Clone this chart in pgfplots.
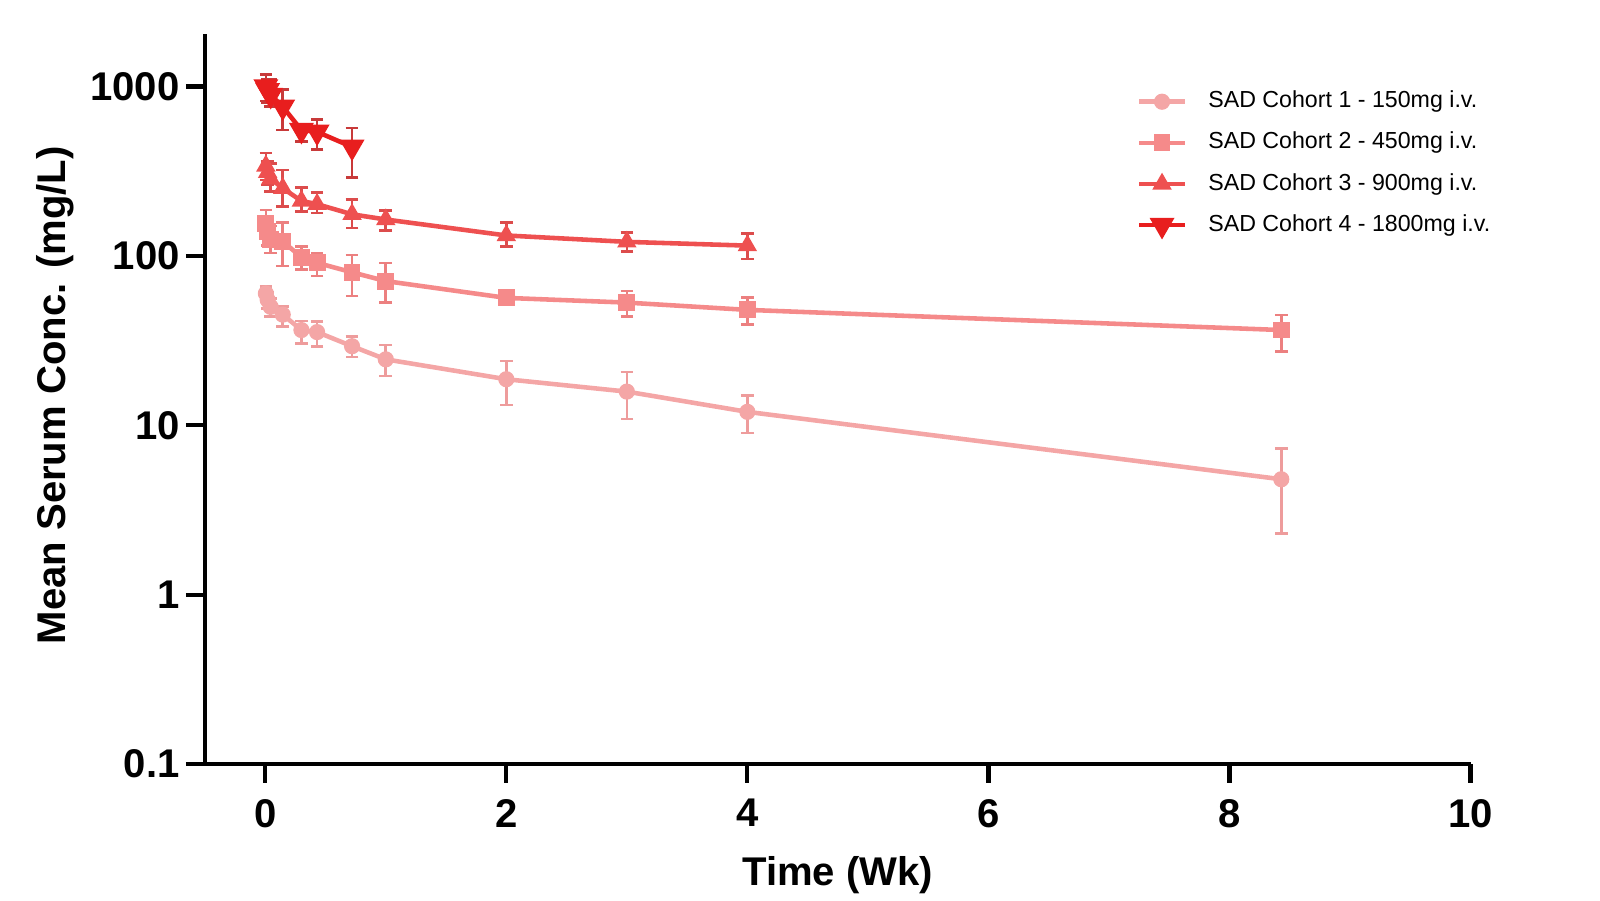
\documentclass[border=0pt]{standalone}
\usepackage{pgfplots}
\pgfplotsset{compat=1.18}
\usepackage{pgfplotstable}
\usepackage{fontspec}
\setmainfont{Liberation Sans}

\definecolor{cA}{HTML}{F4A6A6}
\definecolor{cB}{HTML}{F58A8A}
\definecolor{cC}{HTML}{EE5050}
\definecolor{cD}{HTML}{E81E1E}
\definecolor{eA}{HTML}{EE9C9C}
\definecolor{eB}{HTML}{EC8080}
\definecolor{eC}{HTML}{DC4C4C}
\definecolor{eD}{HTML}{C83A3A}

% time (wk), mean, error above, error below (mg/L)
\pgfplotstableread{
t     y     ep    em
0.005 60    6     6
0.02  55    6     6
0.045 50    6     6
0.145 45    5.3   6.6
0.30  36.5  4.7   6
0.43  35.5  5.5   6.3
0.72  29.3  4.1   4
1     24.5  5.3   5
2     18.7  5.3   5.5
3     15.8  4.8   4.9
4     12    3     3
8.43  4.8   2.5   2.5
}\cohortA
\pgfplotstableread{
t     y     ep    em
0.005 155   32    25
0.02  140   25    25
0.045 125   25    21
0.145 122   35    35
0.30  98    16    15
0.43  91    13    15
0.72  80    21    22
1     71    20    18
2     56.5  3.5   3.5
3     53    9     9
4     48    9     8.5
8.43  36.5  8.2   9.3
}\cohortB
\pgfplotstableread{
t     y     ep    em
0.005 340   66    60
0.02  312   50    50
0.045 285   65    45
0.145 251   71    55
0.30  211   42    28
0.43  202   34    23
0.72  176   39    30
1     164   21    23
2     132   26    18
3     121   17    15
4     115   20    19
}\cohortC
\pgfplotstableread{
t     y     ep    em
0.005 1000  180   180
0.02  950   150   150
0.045 890   210   130
0.145 760   200   205
0.30  553   41    80
0.43  540   96    117
0.72  440   129   150
}\cohortD

\pgfplotsset{
  cohort/.style n args={2}{
    color=#1, line width=1.3pt, mark options={solid, fill=#1, draw=#1, line width=0.4pt},
    error bars/y dir=both, error bars/y explicit,
    error bars/error bar style={color=#2, line width=0.75pt},
    error bars/error mark options={rotate=90, mark size=1.8pt, color=#2, line width=0.75pt}
  }
}

\begin{document}
\begin{tikzpicture}
\useasboundingbox (-2.05cm,-1.36cm) rectangle (13.95cm,7.64cm);
\begin{axis}[
  at={(0,0)}, anchor=south west,
  scale only axis, width=12.655cm, height=7.303cm,
  ymode=log, xmin=-0.5, xmax=10, ymin=0.1, ymax=2050,
  axis x line*=bottom, axis y line*=left,
  axis line style={-, line width=1.2pt, black},
  tick align=outside, major tick length=0.19cm,
  tick style={line width=1.2pt, black},
  minor y tick style={draw=none},
  xtick={0,2,4,6,8,10},
  ytick={0.1,1,10,100,1000}, yticklabels={0.1,1,10,100,1000},
  /pgf/number format/assume math mode=true,
  ticklabel style={font=\fontsize{11.4}{13}\selectfont\bfseries},
  xticklabel style={yshift=-0.04cm},
  yticklabel style={xshift=0.06cm},
  xlabel={Time (Wk)}, ylabel={Mean Serum Conc. (mg/L)},
  every axis x label/.style={at={(axis description cs:0.5,-0.152)}, anchor=center,
    font=\fontsize{11.4}{13}\selectfont\bfseries},
  every axis y label/.style={at={(axis description cs:-0.1187,0.505)}, anchor=center, rotate=90,
    font=\fontsize{11.4}{13}\selectfont\bfseries},
  clip=false,
  legend style={draw=none, fill=none, at={(axis description cs:0.7357,0.9235)}, anchor=north west,
    font=\fontsize{6.6}{8}\selectfont, inner sep=0pt, row sep=5.2pt, column sep=0.21cm,
    nodes={inner sep=0pt, text height=5pt, text depth=1.5pt}},
  legend cell align=left,
  legend image code/.code={\draw[mark repeat=2, mark phase=2] plot coordinates {(0cm,0cm) (0.23cm,0cm) (0.46cm,0cm)};},
]
\addplot[cohort={cA}{eA}, mark=*, mark size=2.1pt] table[x=t, y=y, y error plus=ep, y error minus=em] {\cohortA};
\addlegendentry{SAD Cohort 1 - 150mg i.v.}
\addplot[cohort={cB}{eB}, mark=square*, mark size=2.2pt] table[x=t, y=y, y error plus=ep, y error minus=em] {\cohortB};
\addlegendentry{SAD Cohort 2 - 450mg i.v.}
\addplot[cohort={cC}{eC}, mark=triangle*, mark size=2.8pt] table[x=t, y=y, y error plus=ep, y error minus=em] {\cohortC};
\addlegendentry{SAD Cohort 3 - 900mg i.v.}
\addplot[cohort={cD}{eD}, mark=triangle*, mark size=2.8pt, mark options={rotate=180}] table[x=t, y=y, y error plus=ep, y error minus=em] {\cohortD};
\addlegendentry{SAD Cohort 4 - 1800mg i.v.}
\end{axis}
\end{tikzpicture}
\end{document}
